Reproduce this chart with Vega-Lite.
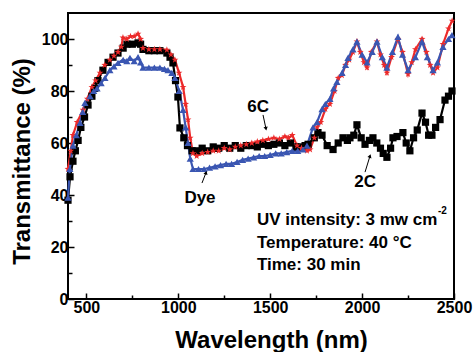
{
  "$schema": "https://vega.github.io/schema/vega-lite/v6.json",
  "width": 386,
  "height": 286,
  "autosize": {"type": "none"},
  "padding": {"left": 68, "top": 13, "right": 19, "bottom": 53},
  "background": "white",
  "config": {
    "view": {"stroke": "black", "strokeWidth": 2},
    "font": "Liberation Sans",
    "axis": {
      "domain": false,
      "grid": false,
      "labelFlush": false,
      "labelFont": "Liberation Sans",
      "labelFontWeight": "bold",
      "labelFontSize": 16,
      "labelColor": "black",
      "titleFont": "Liberation Sans",
      "titleFontWeight": "bold",
      "titleFontSize": 24,
      "titleColor": "black",
      "tickColor": "black",
      "tickWidth": 1.5
    }
  },
  "datasets": {
    "curves": [
      {"s":"2C","w":400,"t":38},{"s":"2C","w":411,"t":47},{"s":"2C","w":427,"t":53},{"s":"2C","w":440,"t":57},{"s":"2C","w":455,"t":61},{"s":"2C","w":470,"t":66},{"s":"2C","w":490,"t":70},{"s":"2C","w":509,"t":74.6},{"s":"2C","w":530,"t":78},{"s":"2C","w":545,"t":81},{"s":"2C","w":563,"t":84},{"s":"2C","w":590,"t":88},{"s":"2C","w":618,"t":91},{"s":"2C","w":645,"t":93},{"s":"2C","w":672,"t":94.6},{"s":"2C","w":700,"t":96.5},{"s":"2C","w":721,"t":98},{"s":"2C","w":750,"t":98},{"s":"2C","w":781,"t":98.5},{"s":"2C","w":795,"t":98},{"s":"2C","w":808,"t":96},{"s":"2C","w":840,"t":95.5},{"s":"2C","w":870,"t":95.5},{"s":"2C","w":900,"t":95.5},{"s":"2C","w":938,"t":94.6},{"s":"2C","w":955,"t":93},{"s":"2C","w":971,"t":90.8},{"s":"2C","w":985,"t":84},{"s":"2C","w":998,"t":77.7},{"s":"2C","w":1009,"t":65.8},{"s":"2C","w":1030,"t":62},{"s":"2C","w":1050,"t":59},{"s":"2C","w":1075,"t":57},{"s":"2C","w":1100,"t":57},{"s":"2C","w":1130,"t":58},{"s":"2C","w":1160,"t":57},{"s":"2C","w":1190,"t":58.5},{"s":"2C","w":1220,"t":58},{"s":"2C","w":1250,"t":59},{"s":"2C","w":1280,"t":58},{"s":"2C","w":1310,"t":59},{"s":"2C","w":1340,"t":58},{"s":"2C","w":1370,"t":59},{"s":"2C","w":1400,"t":59},{"s":"2C","w":1430,"t":58.5},{"s":"2C","w":1460,"t":59.5},{"s":"2C","w":1490,"t":59},{"s":"2C","w":1520,"t":59.5},{"s":"2C","w":1550,"t":60},{"s":"2C","w":1580,"t":59},{"s":"2C","w":1610,"t":60},{"s":"2C","w":1640,"t":58.5},{"s":"2C","w":1662,"t":58.5},{"s":"2C","w":1690,"t":59},{"s":"2C","w":1706,"t":59.5},{"s":"2C","w":1740,"t":62},{"s":"2C","w":1760,"t":64},{"s":"2C","w":1782,"t":63},{"s":"2C","w":1810,"t":59},{"s":"2C","w":1842,"t":57.5},{"s":"2C","w":1870,"t":60},{"s":"2C","w":1896,"t":62},{"s":"2C","w":1920,"t":61},{"s":"2C","w":1934,"t":62},{"s":"2C","w":1955,"t":63},{"s":"2C","w":1972,"t":67},{"s":"2C","w":1995,"t":62},{"s":"2C","w":2016,"t":59.5},{"s":"2C","w":2040,"t":61},{"s":"2C","w":2059,"t":62},{"s":"2C","w":2080,"t":60},{"s":"2C","w":2100,"t":58},{"s":"2C","w":2115,"t":56},{"s":"2C","w":2135,"t":54.5},{"s":"2C","w":2155,"t":58},{"s":"2C","w":2168,"t":62},{"s":"2C","w":2190,"t":62.5},{"s":"2C","w":2222,"t":64},{"s":"2C","w":2240,"t":60},{"s":"2C","w":2260,"t":57},{"s":"2C","w":2280,"t":62},{"s":"2C","w":2300,"t":65},{"s":"2C","w":2326,"t":71.5},{"s":"2C","w":2345,"t":68},{"s":"2C","w":2362,"t":63},{"s":"2C","w":2380,"t":63},{"s":"2C","w":2400,"t":66},{"s":"2C","w":2424,"t":69},{"s":"2C","w":2451,"t":76.5},{"s":"2C","w":2470,"t":78},{"s":"2C","w":2489,"t":80},
      {"s":"6C","w":400,"t":50},{"s":"6C","w":415,"t":57},{"s":"6C","w":427,"t":63},{"s":"6C","w":450,"t":68},{"s":"6C","w":482,"t":72.7},{"s":"6C","w":505,"t":77},{"s":"6C","w":530,"t":81.5},{"s":"6C","w":550,"t":84},{"s":"6C","w":574,"t":87},{"s":"6C","w":600,"t":90},{"s":"6C","w":628,"t":92},{"s":"6C","w":650,"t":93.5},{"s":"6C","w":672,"t":95},{"s":"6C","w":690,"t":97},{"s":"6C","w":699,"t":100.5},{"s":"6C","w":720,"t":100},{"s":"6C","w":740,"t":101},{"s":"6C","w":760,"t":101},{"s":"6C","w":781,"t":102},{"s":"6C","w":795,"t":100},{"s":"6C","w":808,"t":96.5},{"s":"6C","w":840,"t":96},{"s":"6C","w":870,"t":96},{"s":"6C","w":900,"t":96},{"s":"6C","w":938,"t":95.8},{"s":"6C","w":960,"t":94},{"s":"6C","w":982,"t":92},{"s":"6C","w":1004,"t":87},{"s":"6C","w":1026,"t":81.5},{"s":"6C","w":1040,"t":75},{"s":"6C","w":1053,"t":69},{"s":"6C","w":1065,"t":62},{"s":"6C","w":1080,"t":56},{"s":"6C","w":1100,"t":55},{"s":"6C","w":1130,"t":56},{"s":"6C","w":1160,"t":56.5},{"s":"6C","w":1190,"t":57},{"s":"6C","w":1220,"t":57},{"s":"6C","w":1250,"t":58},{"s":"6C","w":1280,"t":57.5},{"s":"6C","w":1310,"t":58.5},{"s":"6C","w":1340,"t":59},{"s":"6C","w":1370,"t":59.5},{"s":"6C","w":1400,"t":60},{"s":"6C","w":1430,"t":60.5},{"s":"6C","w":1460,"t":61},{"s":"6C","w":1490,"t":61.5},{"s":"6C","w":1520,"t":62},{"s":"6C","w":1550,"t":61.5},{"s":"6C","w":1580,"t":62.5},{"s":"6C","w":1600,"t":62},{"s":"6C","w":1620,"t":63},{"s":"6C","w":1646,"t":59},{"s":"6C","w":1670,"t":58},{"s":"6C","w":1700,"t":57},{"s":"6C","w":1717,"t":57.5},{"s":"6C","w":1740,"t":62},{"s":"6C","w":1755,"t":66},{"s":"6C","w":1775,"t":68},{"s":"6C","w":1800,"t":73},{"s":"6C","w":1825,"t":75},{"s":"6C","w":1850,"t":80},{"s":"6C","w":1870,"t":85},{"s":"6C","w":1890,"t":86},{"s":"6C","w":1910,"t":90},{"s":"6C","w":1930,"t":92},{"s":"6C","w":1950,"t":95},{"s":"6C","w":1972,"t":99},{"s":"6C","w":1990,"t":95},{"s":"6C","w":2010,"t":91},{"s":"6C","w":2027,"t":89},{"s":"6C","w":2050,"t":95},{"s":"6C","w":2081,"t":99},{"s":"6C","w":2100,"t":94},{"s":"6C","w":2120,"t":90},{"s":"6C","w":2135,"t":87},{"s":"6C","w":2160,"t":93},{"s":"6C","w":2195,"t":100},{"s":"6C","w":2220,"t":95},{"s":"6C","w":2250,"t":86.5},{"s":"6C","w":2270,"t":91},{"s":"6C","w":2290,"t":96},{"s":"6C","w":2326,"t":100},{"s":"6C","w":2350,"t":95},{"s":"6C","w":2370,"t":90},{"s":"6C","w":2386,"t":87},{"s":"6C","w":2410,"t":89},{"s":"6C","w":2440,"t":98},{"s":"6C","w":2470,"t":104},{"s":"6C","w":2490,"t":107},
      {"s":"Dye","w":400,"t":39},{"s":"Dye","w":410,"t":50},{"s":"Dye","w":427,"t":59},{"s":"Dye","w":445,"t":63},{"s":"Dye","w":465,"t":67.7},{"s":"Dye","w":480,"t":72},{"s":"Dye","w":492,"t":75.4},{"s":"Dye","w":520,"t":78},{"s":"Dye","w":540,"t":80},{"s":"Dye","w":558,"t":81},{"s":"Dye","w":580,"t":83},{"s":"Dye","w":601,"t":85},{"s":"Dye","w":628,"t":88},{"s":"Dye","w":650,"t":89.5},{"s":"Dye","w":672,"t":90.8},{"s":"Dye","w":700,"t":92},{"s":"Dye","w":720,"t":91.5},{"s":"Dye","w":737,"t":92.7},{"s":"Dye","w":760,"t":91.5},{"s":"Dye","w":781,"t":93},{"s":"Dye","w":795,"t":91},{"s":"Dye","w":808,"t":89},{"s":"Dye","w":840,"t":89},{"s":"Dye","w":870,"t":89},{"s":"Dye","w":900,"t":89},{"s":"Dye","w":925,"t":88.5},{"s":"Dye","w":944,"t":88},{"s":"Dye","w":965,"t":87},{"s":"Dye","w":982,"t":85},{"s":"Dye","w":1005,"t":80},{"s":"Dye","w":1026,"t":72.7},{"s":"Dye","w":1040,"t":66},{"s":"Dye","w":1053,"t":60},{"s":"Dye","w":1065,"t":54},{"s":"Dye","w":1080,"t":50},{"s":"Dye","w":1110,"t":50},{"s":"Dye","w":1140,"t":50},{"s":"Dye","w":1170,"t":50.5},{"s":"Dye","w":1200,"t":51},{"s":"Dye","w":1230,"t":51.5},{"s":"Dye","w":1260,"t":52},{"s":"Dye","w":1290,"t":52},{"s":"Dye","w":1320,"t":52.7},{"s":"Dye","w":1350,"t":53.5},{"s":"Dye","w":1380,"t":54},{"s":"Dye","w":1410,"t":54.5},{"s":"Dye","w":1440,"t":55},{"s":"Dye","w":1470,"t":55},{"s":"Dye","w":1500,"t":55.4},{"s":"Dye","w":1530,"t":56},{"s":"Dye","w":1560,"t":56},{"s":"Dye","w":1590,"t":56.5},{"s":"Dye","w":1620,"t":57},{"s":"Dye","w":1650,"t":57},{"s":"Dye","w":1678,"t":57.5},{"s":"Dye","w":1700,"t":59},{"s":"Dye","w":1733,"t":66},{"s":"Dye","w":1755,"t":68},{"s":"Dye","w":1782,"t":73},{"s":"Dye","w":1800,"t":75},{"s":"Dye","w":1825,"t":77},{"s":"Dye","w":1845,"t":81},{"s":"Dye","w":1863,"t":83.5},{"s":"Dye","w":1891,"t":87},{"s":"Dye","w":1910,"t":90},{"s":"Dye","w":1923,"t":92.7},{"s":"Dye","w":1950,"t":96},{"s":"Dye","w":1972,"t":99},{"s":"Dye","w":2000,"t":94},{"s":"Dye","w":2027,"t":91},{"s":"Dye","w":2055,"t":95},{"s":"Dye","w":2081,"t":99},{"s":"Dye","w":2110,"t":93},{"s":"Dye","w":2135,"t":89},{"s":"Dye","w":2165,"t":95},{"s":"Dye","w":2195,"t":100.8},{"s":"Dye","w":2220,"t":94},{"s":"Dye","w":2250,"t":88},{"s":"Dye","w":2290,"t":93},{"s":"Dye","w":2326,"t":99},{"s":"Dye","w":2355,"t":93},{"s":"Dye","w":2386,"t":88},{"s":"Dye","w":2410,"t":91},{"s":"Dye","w":2440,"t":97},{"s":"Dye","w":2470,"t":100},{"s":"Dye","w":2489,"t":101.5}
    ],
    "labels": [
      {"label":"6C","w":1434,"t":73.8},
      {"label":"Dye","w":1118,"t":38.8},
      {"label":"2C","w":2016,"t":45}
    ],
    "notes": [
      {"label":"UV intensity: 3 mw cm","w":1428,"t":30.4},
      {"label":"Temperature: 40 °C","w":1428,"t":21.6},
      {"label":"Time: 30 min","w":1428,"t":13}
    ],
    "sup": [
      {"label":"-2","w":2413,"t":33.8}
    ],
    "arrows": [
      {"a":"6C","w":1461,"t":70.8,"w2":1477,"t2":65.5},
      {"a":"Dye","w":1129,"t":44.6,"w2":1151,"t2":48.6},
      {"a":"2C","w":2016,"t":48.8,"w2":2043,"t2":55}
    ]
  },
  "layer": [
    {
      "data": {"name": "curves"},
      "mark": {"type": "line", "strokeWidth": 2.2},
      "encoding": {
        "x": {"field": "w", "type": "quantitative", "scale": {"domain": [400, 2500], "nice": false, "zero": false},
              "axis": {"orient": "bottom", "title": "Wavelength (nm)", "format": "d", "values": [500, 1000, 1500, 2000, 2500], "tickSize": -6, "labelPadding": 6, "titleBaseline": "middle", "titleX": 203, "titleY": 41}},
        "y": {"field": "t", "type": "quantitative", "scale": {"domain": [0, 110], "nice": false},
              "axis": {"orient": "left", "title": "Transmittance (%)", "values": [0, 20, 40, 60, 80, 100], "tickSize": -6, "labelPadding": 6, "titleBaseline": "middle", "titleX": -46, "titleY": 148}},
        "color": {"field": "s", "type": "nominal", "scale": {"domain": ["2C", "6C", "Dye"], "range": ["#000000", "#ec2a2a", "#3a56b2"]}, "legend": null},
        "detail": {"field": "s"}
      }
    },
    {
      "data": {"name": "curves"},
      "mark": {"type": "point", "filled": true, "opacity": 1, "size": 52},
      "encoding": {
        "x": {"field": "w", "type": "quantitative", "axis": {"orient": "bottom", "values": [750, 1250, 1750, 2250], "tickSize": -4, "labels": false, "title": null}},
        "y": {"field": "t", "type": "quantitative", "axis": {"orient": "left", "values": [10, 30, 50, 70, 90], "tickSize": -4, "labels": false, "title": null}},
        "color": {"field": "s", "type": "nominal", "legend": null},
        "shape": {"field": "s", "type": "nominal", "scale": {"domain": ["2C", "6C", "Dye"], "range": ["square", "M0,-1L0.235,-0.324L0.951,-0.309L0.38,0.124L0.588,0.809L0,0.4L-0.588,0.809L-0.38,0.124L-0.951,-0.309L-0.235,-0.324Z", "triangle-up"]}, "legend": null}
      }
    },
    {
      "data": {"name": "arrows"},
      "mark": {"type": "rule", "color": "black", "strokeWidth": 1},
      "encoding": {
        "x": {"field": "w", "type": "quantitative", "axis": null},
        "y": {"field": "t", "type": "quantitative", "axis": null},
        "x2": {"field": "w2"},
        "y2": {"field": "t2"}
      }
    },
    {
      "data": {"name": "arrows"},
      "transform": [{"filter": "datum.a === '6C'"}],
      "mark": {"type": "point", "shape": "triangle-up", "filled": true, "color": "black", "size": 18, "angle": 169, "opacity": 1},
      "encoding": {
        "x": {"field": "w2", "type": "quantitative", "axis": null},
        "y": {"field": "t2", "type": "quantitative", "axis": null}
      }
    },
    {
      "data": {"name": "arrows"},
      "transform": [{"filter": "datum.a !== '6C'"}],
      "mark": {"type": "point", "shape": "triangle-up", "filled": true, "color": "black", "size": 18, "angle": 18, "opacity": 1},
      "encoding": {
        "x": {"field": "w2", "type": "quantitative", "axis": null},
        "y": {"field": "t2", "type": "quantitative", "axis": null}
      }
    },
    {
      "data": {"name": "labels"},
      "mark": {"type": "text", "font": "Liberation Sans", "fontWeight": "bold", "fontSize": 17, "color": "black", "align": "center", "baseline": "middle"},
      "encoding": {
        "x": {"field": "w", "type": "quantitative", "axis": null},
        "y": {"field": "t", "type": "quantitative", "axis": null},
        "text": {"field": "label"}
      }
    },
    {
      "data": {"name": "notes"},
      "mark": {"type": "text", "font": "Liberation Sans", "fontWeight": "bold", "fontSize": 17, "color": "black", "align": "left", "baseline": "middle"},
      "encoding": {
        "x": {"field": "w", "type": "quantitative", "axis": null},
        "y": {"field": "t", "type": "quantitative", "axis": null},
        "text": {"field": "label"}
      }
    },
    {
      "data": {"name": "sup"},
      "mark": {"type": "text", "font": "Liberation Sans", "fontWeight": "bold", "fontSize": 10, "color": "black", "align": "left", "baseline": "middle"},
      "encoding": {
        "x": {"field": "w", "type": "quantitative", "axis": null},
        "y": {"field": "t", "type": "quantitative", "axis": null},
        "text": {"field": "label"}
      }
    }
  ],
  "resolve": {"axis": {"x": "independent", "y": "independent"}}
}
